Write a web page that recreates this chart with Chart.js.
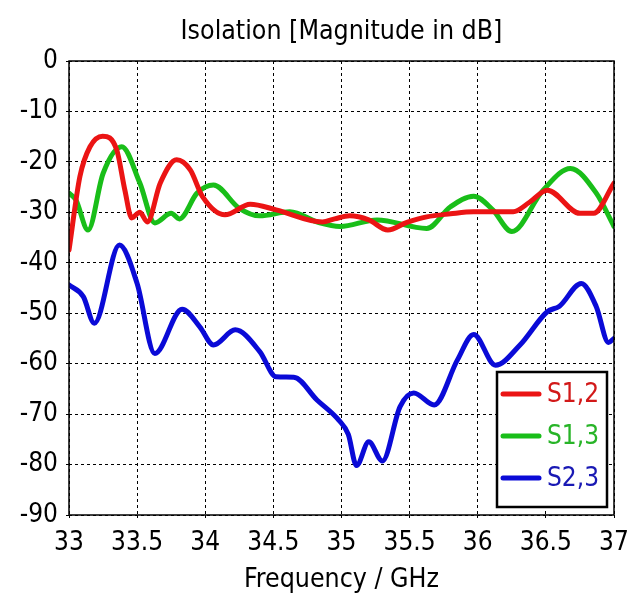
<!DOCTYPE html>
<html>
<head>
<meta charset="utf-8">
<script src="https://cdn.jsdelivr.net/npm/chart.js@4.4.1/dist/chart.umd.min.js"></script>
<style>
  html, body { margin: 0; padding: 0; background: #fff; }
  #wrap { width: 644px; height: 600px; }
</style>
</head>
<body>
<div id="wrap"><canvas id="chart" width="644" height="600"></canvas></div>
<script>
const titleText = "Isolation [Magnitude in dB]";
const xLabel = "Frequency / GHz";
const seriesNames = ["S1,2", "S1,3", "S2,3"];

const freq12 = [33.0, 33.08, 33.154, 33.247, 33.35, 33.41, 33.46, 33.52, 33.575, 33.67, 33.79, 33.89, 33.98, 34.145, 34.33, 34.52, 34.86, 34.95, 35.06, 35.2, 35.34, 35.48, 35.625, 35.8, 35.97, 36.26, 36.38, 36.51, 36.75, 36.85, 37.0];
const s12 = [-37.5, -22.9, -17.0, -14.9, -17.6, -25.6, -31.1, -30.0, -31.9, -24.2, -19.6, -21.6, -26.9, -30.5, -28.4, -29.5, -31.9, -31.3, -30.7, -31.5, -33.5, -32.0, -30.9, -30.3, -29.9, -29.9, -28.0, -25.6, -30.2, -30.2, -24.2];

const freq13 = [33.0, 33.05, 33.14, 33.25, 33.387, 33.52, 33.63, 33.75, 33.81, 33.94, 34.06, 34.25, 34.4, 34.62, 34.84, 34.99, 35.26, 35.625, 35.8, 35.97, 36.11, 36.25, 36.48, 36.68, 36.87, 37.0];
const s13 = [-26.2, -27.5, -33.5, -22.3, -17.0, -24.2, -32.1, -30.2, -31.3, -26.2, -24.6, -29.2, -30.7, -29.9, -32.1, -32.8, -31.5, -33.2, -28.9, -26.8, -29.5, -33.8, -25.6, -21.3, -26.2, -32.8];

const freq23 = [33.0, 33.105, 33.186, 33.37, 33.5, 33.63, 33.83, 33.96, 34.06, 34.22, 34.4, 34.52, 34.65, 34.82, 34.98, 35.05, 35.11, 35.2, 35.3, 35.43, 35.53, 35.68, 35.85, 35.97, 36.13, 36.31, 36.51, 36.6, 36.76, 36.87, 36.96, 37.0];
const s23 = [-44.4, -46.7, -52.0, -36.5, -44.1, -58.0, -49.2, -52.7, -56.3, -53.3, -57.6, -62.6, -62.7, -67.2, -71.2, -74.0, -80.2, -75.5, -79.3, -68.5, -65.8, -68.2, -59.3, -54.2, -60.3, -56.3, -49.7, -48.6, -44.1, -48.7, -55.8, -55.0];

const lineColors = ["rgb(235,20,20)", "rgb(25,190,25)", "rgb(10,10,215)"];
const textColors = ["rgb(210,25,25)", "rgb(40,180,40)", "rgb(25,25,180)"];

const fontFam = "'DejaVu Sans Condensed', 'DejaVu Sans', sans-serif";

function pts(xs, ys) {
  return xs.map((x, i) => ({ x: x, y: ys[i] }));
}

// title over the plot, border box and legend inside the plot
const decor = {
  id: "decor",
  afterDraw(chart) {
    const c = chart.ctx;
    const a = chart.chartArea;
    c.save();
    c.strokeStyle = "#000";
    c.lineWidth = 1.5;
    c.strokeRect(a.left, a.top, a.right - a.left, a.bottom - a.top);

    c.fillStyle = "#000";
    c.font = "26.5px " + fontFam;
    c.textAlign = "center";
    c.textBaseline = "middle";
    c.fillText(titleText, (a.left + a.right) / 2, 32);

    // legend
    const bx = a.right - 117, by = a.bottom - 143, bw = 110, bh = 135;
    c.fillStyle = "#fff";
    c.fillRect(bx, by, bw, bh);
    c.lineWidth = 2.5;
    c.strokeRect(bx, by, bw, bh);
    c.font = "26px " + fontFam;
    c.textAlign = "left";
    chart.data.datasets.forEach((ds, i) => {
      const yy = by + 22 + i * 42;
      c.strokeStyle = ds.borderColor;
      c.lineWidth = 5;
      c.lineCap = "round";
      c.beginPath();
      c.moveTo(bx + 6, yy);
      c.lineTo(bx + 42, yy);
      c.stroke();
      c.fillStyle = textColors[i];
      c.fillText(ds.label, bx + 50, yy + 1);
    });
    c.restore();
  },
};

const gridOpts = { color: "#000", lineWidth: 1, drawTicks: true, tickLength: 3, tickBorderDash: [] };

const ctx = document.getElementById("chart").getContext("2d");
const myChart = new Chart(ctx, {
  type: "line",
  data: {
    datasets: [
      { label: seriesNames[0], data: pts(freq12, s12), borderColor: lineColors[0] },
      { label: seriesNames[1], data: pts(freq13, s13), borderColor: lineColors[1] },
      { label: seriesNames[2], data: pts(freq23, s23), borderColor: lineColors[2] },
    ].map((d) => Object.assign(d, {
      fill: false,
      borderWidth: 5,
      pointRadius: 0,
      cubicInterpolationMode: "monotone",
      borderCapStyle: "round",
      borderJoinStyle: "round",
    })),
  },
  options: {
    responsive: false,
    animation: false,
    layout: { padding: { top: 61, right: 30, left: 0, bottom: 0 } },
    plugins: { legend: { display: false }, tooltip: { enabled: false } },
    scales: {
      x: {
        type: "linear",
        min: 33,
        max: 37,
        afterFit: (s) => { s.height = 85; s.paddingRight = 0; },
        ticks: {
          stepSize: 0.5,
          color: "#000",
          padding: 10,
          maxRotation: 0,
          font: { family: fontFam, size: 26 },
          callback: (v) => String(v),
        },
        grid: gridOpts,
        border: { display: false, dash: [3, 3] },
        title: { display: true, text: xLabel, color: "#000", font: { family: fontFam, size: 26.5 }, padding: { top: 0 } },
      },
      y: {
        min: -90,
        max: 0,
        afterFit: (s) => { s.width = 69; },
        ticks: {
          stepSize: 10,
          color: "#000",
          padding: 8,
          font: { family: fontFam, size: 26 },
        },
        grid: gridOpts,
        border: { display: false, dash: [3, 3] },
      },
    },
  },
  plugins: [decor],
});
</script>
</body>
</html>
